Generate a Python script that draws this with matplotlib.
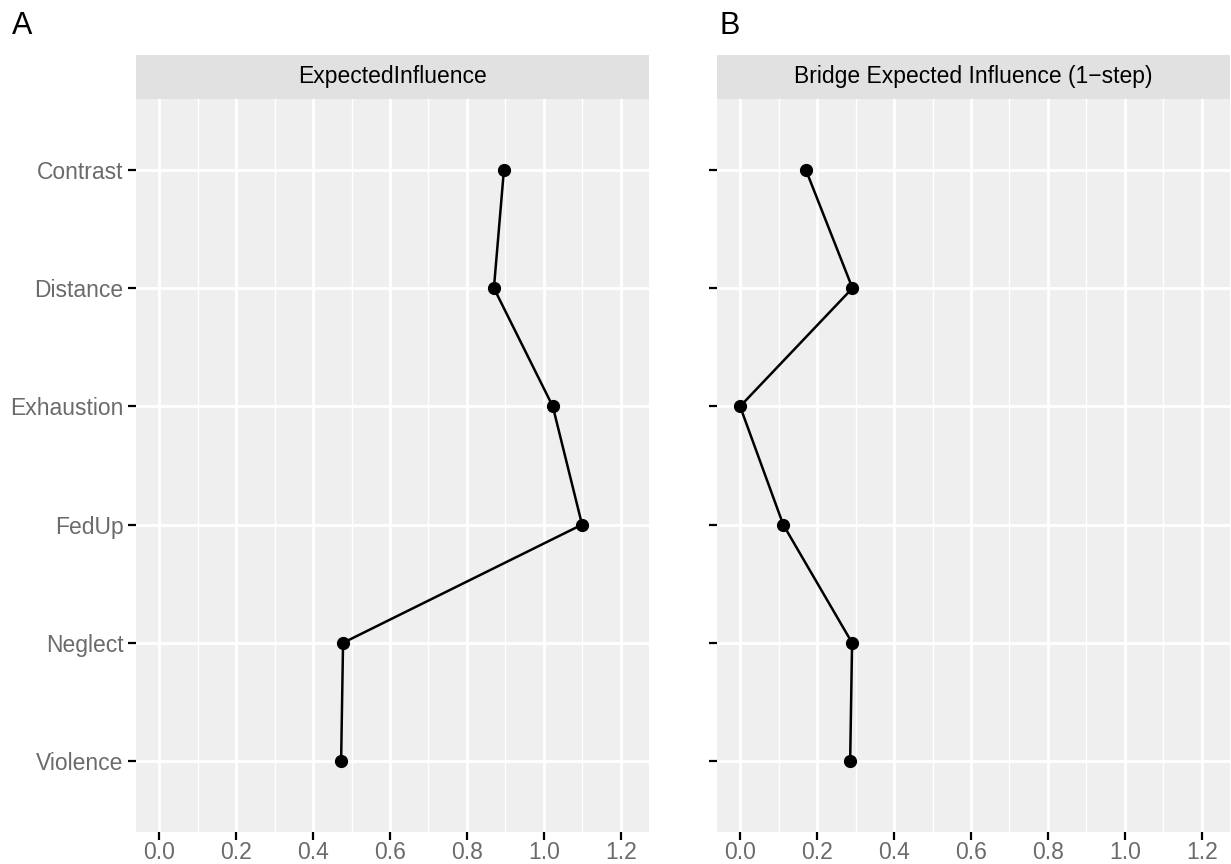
import matplotlib.pyplot as plt
from matplotlib.ticker import MultipleLocator

plt.rcParams["font.family"] = ["Liberation Sans", "DejaVu Sans"]

nodes = ["Contrast", "Distance", "Exhaustion", "FedUp", "Neglect", "Violence"]
expected_influence = [0.896, 0.870, 1.023, 1.099, 0.478, 0.473]
bridge_ei = [0.171, 0.292, 0.0, 0.112, 0.291, 0.286]

titles = ["ExpectedInfluence", "Bridge Expected Influence (1\u2212step)"]
panel_tags = ["A", "B"]
series = [expected_influence, bridge_ei]

PANEL_BG = "#EEEFEE"
STRIP_BG = "#E0E1E0"
TICK_TXT = "#6b6b6b"

fig = plt.figure(figsize=(12.31, 8.64), dpi=100)

lefts = [136 / 1231, 717 / 1231]
w = 513 / 1231
bottom = 1 - 832 / 864
h = (832 - 99) / 864
strip_h = 44 / 864

y = list(range(1, len(nodes) + 1))

for i in range(2):
    ax = fig.add_axes([lefts[i], bottom, w, h])
    ax.set_facecolor(PANEL_BG)
    ax.plot(series[i], y, color="black", lw=1.8, zorder=3)
    ax.plot(series[i], y, "o", color="black", ms=8.5, zorder=4)
    ax.set_xlim(-0.06, 1.273)
    ax.set_ylim(6.6, 0.4)
    ax.xaxis.set_minor_locator(MultipleLocator(0.1))
    ax.set_xticks([0.0, 0.2, 0.4, 0.6, 0.8, 1.0, 1.2])
    ax.set_xticklabels(["0.0", "0.2", "0.4", "0.6", "0.8", "1.0", "1.2"])
    ax.set_yticks(y)
    if i == 0:
        ax.set_yticklabels(nodes)
    else:
        ax.set_yticklabels([])
    ax.grid(which="major", color="white", lw=2.0, zorder=1)
    ax.grid(which="minor", axis="x", color="white", lw=1.0, zorder=1)
    ax.set_axisbelow(True)
    ax.tick_params(axis="both", which="major", length=6, width=1.6, color="black",
                   labelsize=16.5, labelcolor=TICK_TXT, pad=3)
    ax.tick_params(axis="x", which="major", pad=0.3)
    ax.tick_params(axis="both", which="minor", length=0)
    for s in ax.spines.values():
        s.set_visible(False)

    sax = fig.add_axes([lefts[i], 1 - 99 / 864, w, strip_h])
    sax.set_facecolor(STRIP_BG)
    sax.set_xticks([])
    sax.set_yticks([])
    for s in sax.spines.values():
        s.set_visible(False)
    sax.text(0.5, 0.5, titles[i], ha="center", va="center", fontsize=16.5,
             color="black", transform=sax.transAxes)

    tag_x = 12 / 1231 if i == 0 else (lefts[i] + 3 / 1231)
    fig.text(tag_x, 1 - 26 / 864, panel_tags[i], fontsize=22, ha="left", va="center")

fig.savefig("out.png", dpi=100)
